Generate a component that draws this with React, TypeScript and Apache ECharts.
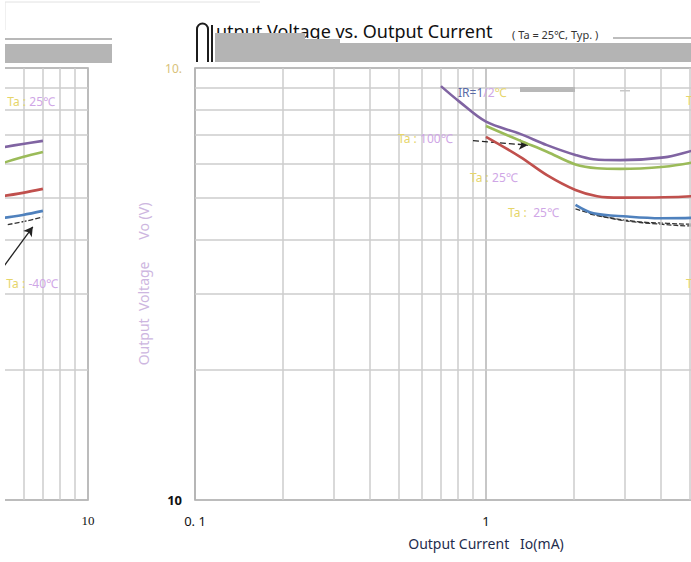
import React, { useEffect, useRef } from "react";
import * as echarts from "echarts";

// ---------- data ----------
const minorCurrentMain = [0.2, 0.3, 0.4, 0.5, 0.6, 0.7, 0.8, 0.9, 2, 3, 4, 5, 6, 7, 8, 9];
const minorCurrentLeft = [2, 3, 4, 5, 6, 7, 8, 9];
const minorVoltage = [20, 30, 40, 50, 60, 70, 80, 90];

const mainPurpleX = [0.7, 0.81, 1.0, 1.31, 1.62, 2.03, 2.34, 2.9, 4.09, 5.09, 6.5];
const mainPurpleY = [90.8, 83.6, 75.1, 70.4, 66.3, 62.9, 61.5, 61.2, 62.1, 64.3, 67.0];
const mainGreenX = [1.0, 1.31, 1.62, 2.03, 2.41, 2.9, 4.09, 5.09, 6.5];
const mainGreenY = [73.4, 67.9, 64.0, 59.8, 58.6, 58.4, 59.1, 60.4, 62.5];
const mainRedX = [1.0, 1.31, 1.62, 2.03, 2.41, 2.9, 4.09, 5.09, 6.5];
const mainRedY = [69.3, 62.3, 56.5, 52.2, 50.5, 50.1, 50.2, 50.5, 51.2];
const mainBlueX = [2.03, 2.34, 3.06, 3.98, 5.09, 6.5];
const mainBlueY = [48.2, 46.1, 45.3, 44.9, 45.0, 45.6];
const mainHatch1X = [2.03, 2.5, 3.31, 4.2, 5.09, 6.5];
const mainHatch1Y = [47.2, 45.4, 44.1, 43.7, 43.5, 43.6];
const mainHatch2X = [2.28, 3.0, 3.98, 5.09, 6.5];
const mainHatch2Y = [45.9, 44.3, 43.5, 43.1, 43.1];

const leftX = [5.0, 5.97, 7.0];
const leftPurpleY = [65.4, 66.7, 67.8];
const leftGreenY = [60.0, 62.2, 63.9];
const leftRedY = [50.4, 51.4, 52.5];
const leftBlueY = [44.9, 45.7, 46.7];
const leftHatchX = [5.3, 6.2, 7.0];
const leftHatchY = [43.4, 44.3, 45.2];

const mainArrowFrom = [0.902, 67.9];
const mainArrowTo = [1.396, 66.3];
const leftArrowFrom = [4.97, 33.7];
const leftArrowTo = [6.46, 42.9];

const xTitle = "Output Current   Io(mA)";
const yTitle = "Output  Voltage      Vo (V)";

const zip = (xs: number[], ys: number[]) => xs.map((x, i) => [x, ys[i]]);

const PURPLE = "#8064a2";
const GREEN = "#9bbb59";
const RED = "#c0504d";
const BLUE = "#4f81bd";

echarts.graphic.registerShape(
  "arch",
  echarts.graphic.extendPath("M197,62 L197,29 A5.5,5.5 0 0 1 208,29 L208,62 M212,25 L212,62", {}) as any
);

const paleRich = {
  a: { fill: "#e6d56a", fontSize: 12, fontFamily: "Noto Sans" },
  b: { fill: "#cfa6e6", fontSize: 12, fontFamily: "Noto Sans" },
  d: { fill: "#5a6aa6", fontSize: 12, fontFamily: "Noto Sans" },
};

function curve(name: string, xi: number, data: number[][], color: string, width = 2.6) {
  return {
    name,
    type: "line",
    xAxisIndex: xi,
    yAxisIndex: xi,
    data,
    smooth: 0.35,
    symbol: "none",
    z: 5,
    lineStyle: { color, width },
  };
}

function hatch(name: string, xi: number, data: number[][]) {
  return {
    name,
    type: "line",
    xAxisIndex: xi,
    yAxisIndex: xi,
    data,
    smooth: 0.35,
    symbol: "none",
    z: 4,
    lineStyle: { color: "#333", width: 1.3, type: [5, 2] },
  };
}

function gridLines(xi: number, xs: number[]) {
  return {
    name: "grid" + xi,
    type: "line",
    xAxisIndex: xi,
    yAxisIndex: xi,
    data: [],
    z: 1,
    silent: true,
    markLine: {
      silent: true,
      symbol: "none",
      animation: false,
      label: { show: false },
      lineStyle: { color: "#cccccc", width: 1.5, type: "solid" },
      data: [...xs.map((v) => ({ xAxis: v })), ...minorVoltage.map((v) => ({ yAxis: v }))],
    },
  };
}

function arrow(xi: number, from: number[], to: number[], dashed: boolean) {
  return {
    name: "arrow" + xi,
    type: "line",
    xAxisIndex: xi,
    yAxisIndex: xi,
    data: [],
    z: 6,
    markLine: {
      silent: true,
      animation: false,
      symbol: ["none", "arrow"],
      symbolSize: [8, 9],
      label: { show: false },
      lineStyle: { color: "#222", width: 1.3, type: dashed ? [6, 3] : "solid" },
      data: [[{ coord: from }, { coord: to }]],
    },
  };
}

export default function App() {
  const ref = useRef<HTMLDivElement>(null);
  useEffect(() => {
    if (!ref.current) return;
    const chart = echarts.init(ref.current, undefined, { renderer: "svg" });
    const axisCommon = {
      type: "log",
      logBase: 10,
      axisLine: { show: false },
      axisTick: { show: false },
      minorTick: { show: false },
    };
    chart.setOption({
      animation: false,
      backgroundColor: "#ffffff",
      grid: [
        { left: -203, top: 68, width: 291, height: 432, outerBoundsMode: "none", containLabel: false, show: true, borderColor: "#a6a6a6", borderWidth: 1.5, backgroundColor: "transparent" },
        { left: 195, top: 68, width: 582, height: 432, outerBoundsMode: "none", containLabel: false, show: true, borderColor: "#a6a6a6", borderWidth: 1.5, backgroundColor: "transparent" },
      ],
      xAxis: [
        {
          ...axisCommon,
          gridIndex: 0,
          min: 1,
          max: 10,
          splitLine: { show: true, lineStyle: { color: "#bdbdbd", width: 1.5 } },
          axisLabel: {
            margin: 14,
            color: "#111",
            fontSize: 13,
            fontFamily: "Liberation Serif",
            formatter: (v: number) => (v > 5 ? "10" : ""),
          },
        },
        {
          ...axisCommon,
          gridIndex: 1,
          min: 0.1,
          max: 10,
          splitLine: { show: true, lineStyle: { color: "#b5b5b5", width: 1.5 } },
          axisLabel: {
            margin: 14,
            color: "#111",
            fontSize: 13,
            fontFamily: "Noto Sans",
            formatter: (v: number) => (v < 0.5 ? "0. 1" : v < 5 ? "1" : ""),
          },
          name: xTitle,
          nameLocation: "middle",
          nameGap: 36,
          nameTextStyle: { color: "#1f2d4d", fontSize: 14, fontFamily: "Noto Sans" },
        },
      ],
      yAxis: [
        {
          ...axisCommon,
          gridIndex: 0,
          min: 10,
          max: 100,
          splitLine: { show: false },
          axisLabel: { show: false },
        },
        {
          ...axisCommon,
          gridIndex: 1,
          min: 10,
          max: 100,
          splitLine: { show: false },
          axisLabel: {
            margin: 13,
            fontSize: 12,
            fontFamily: "Noto Sans",
            formatter: (v: number) => (v > 50 ? "{p|10.}" : "{b|10}"),
            rich: {
              p: { color: "#d9c27a", fontSize: 12, fontFamily: "Noto Sans" },
              b: { color: "#111", fontSize: 13, fontFamily: "Noto Sans", fontWeight: "bold" },
            },
          },
          name: yTitle,
          nameLocation: "middle",
          nameRotate: 90,
          nameGap: 45,
          nameTextStyle: { color: "#cdb6e0", fontSize: 14, fontFamily: "Noto Sans" },
        },
      ],
      series: [
        gridLines(0, minorCurrentLeft),
        gridLines(1, minorCurrentMain),
        hatch("lh", 0, zip(leftHatchX, leftHatchY)),
        curve("lp", 0, zip(leftX, leftPurpleY), PURPLE),
        curve("lg", 0, zip(leftX, leftGreenY), GREEN),
        curve("lr", 0, zip(leftX, leftRedY), RED),
        curve("lb", 0, zip(leftX, leftBlueY), BLUE),
        hatch("mh1", 1, zip(mainHatch1X, mainHatch1Y)),
        hatch("mh2", 1, zip(mainHatch2X, mainHatch2Y)),
        curve("mp", 1, zip(mainPurpleX, mainPurpleY), PURPLE),
        curve("mg", 1, zip(mainGreenX, mainGreenY), GREEN),
        curve("mr", 1, zip(mainRedX, mainRedY), RED),
        curve("mb", 1, zip(mainBlueX, mainBlueY), BLUE),
        arrow(1, mainArrowFrom, mainArrowTo, true),
        arrow(0, leftArrowFrom, leftArrowTo, false),
      ],
      graphic: [
        { type: "polyline", shape: { points: [[5, 30], [5, 2], [260, 2]] }, style: { stroke: "#e2e2e2", lineWidth: 1, fill: "none" }, z: 10 },
        { type: "rect", shape: { x: 5, y: 38, width: 107, height: 2 }, style: { fill: "#b8b8b8" }, z: 10 },
        { type: "rect", shape: { x: 5, y: 44, width: 107, height: 19 }, style: { fill: "#b5b5b5" }, z: 10 },
        { type: "text", x: 216, y: 31, style: { text: "utput Voltage vs. Output Current", fontSize: 18, fontFamily: "Noto Sans", fill: "#111", verticalAlign: "middle" }, z: 9 },
        { type: "text", x: 512, y: 34, style: { text: "( Ta = 25℃, Typ. )", fontSize: 11, fontFamily: "Noto Sans", fill: "#333", verticalAlign: "middle" }, z: 9 },
        { type: "polygon", shape: { points: [[215, 33], [305, 33], [305, 39], [340, 39], [340, 43], [691, 43], [691, 62], [215, 62]] }, style: { fill: "#b4b4b4" }, z: 10 },
        { type: "rect", shape: { x: 613, y: 37, width: 78, height: 2 }, style: { fill: "#bdbdbd" }, z: 10 },
        { type: "arch", x: 0, y: 0, style: { stroke: "#1c1c1c", lineWidth: 2, fill: "none" }, z: 11 },
        { type: "text", x: 458, y: 92, style: { text: "{d|IR=1}{b|/2}{a|℃}", rich: paleRich, verticalAlign: "middle" }, z: 12 },
        { type: "rect", shape: { x: 520, y: 87, width: 55, height: 5 }, style: { fill: "#b8b8b8" }, z: 12 },
        { type: "rect", shape: { x: 620, y: 90, width: 10, height: 1.5 }, style: { fill: "#c8c8c8" }, z: 12 },
        { type: "text", x: 398, y: 138, style: { text: "{a|Ta :} {b|100℃}", rich: paleRich, verticalAlign: "middle" }, z: 12 },
        { type: "text", x: 470, y: 177, style: { text: "{a|Ta :} {b|25℃}", rich: paleRich, verticalAlign: "middle" }, z: 12 },
        { type: "text", x: 508, y: 212, style: { text: "{a|Ta :} {b| 25℃}", rich: paleRich, verticalAlign: "middle" }, z: 12 },
        { type: "text", x: 686, y: 100, style: { text: "{a|Ta}", rich: paleRich, verticalAlign: "middle" }, z: 12 },
        { type: "text", x: 686, y: 283, style: { text: "{a|T}", rich: paleRich, verticalAlign: "middle" }, z: 12 },
        { type: "text", x: 55, y: 101, style: { text: "{a|Ta :} {b|25℃}", rich: paleRich, align: "right", verticalAlign: "middle" }, z: 12 },
        { type: "text", x: 58, y: 283, style: { text: "{a|Ta :} {b|-40℃}", rich: paleRich, align: "right", verticalAlign: "middle" }, z: 12 },
        { type: "rect", shape: { x: 0, y: 0, width: 5, height: 562 }, style: { fill: "#ffffff" }, z: 50 },
      ],
    });
    return () => chart.dispose();
  }, []);
  return (
    <div
      ref={ref}
      style={{ position: "fixed", left: 0, top: 0, width: 691, height: 562, background: "#fff" }}
    />
  );
}
